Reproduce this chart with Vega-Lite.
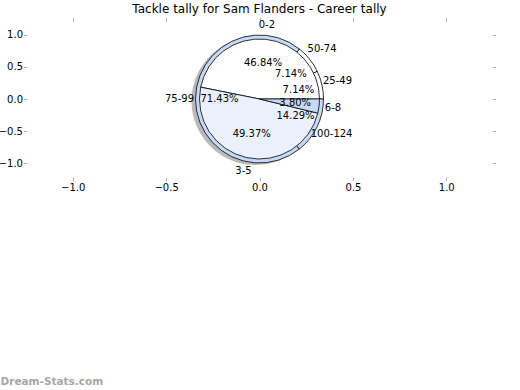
{
  "$schema": "https://vega.github.io/schema/vega-lite/v6.json",
  "autosize": {"type": "none"},
  "width": 465,
  "height": 156,
  "padding": {"left": 27, "top": 21, "right": 28, "bottom": 213},
  "background": "white",
  "title": {
    "text": "Tackle tally for Sam Flanders - Career tally",
    "font": "DejaVu Sans",
    "fontSize": 12,
    "fontWeight": "normal",
    "color": "black",
    "offset": 1
  },
  "datasets": {
    "career": [
      {"range": "25-49", "share": 0.0714, "idx": 1},
      {"range": "50-74", "share": 0.0714, "idx": 2},
      {"range": "75-99", "share": 0.7143, "idx": 3},
      {"range": "100-124", "share": 0.1429, "idx": 4}
    ],
    "games": [
      {"range": "0-2", "share": 0.4684, "idx": 1},
      {"range": "3-5", "share": 0.4937, "idx": 2},
      {"range": "6-8", "share": 0.038, "idx": 3}
    ]
  },
  "layer": [
    {
      "data": {"name": "career"},
      "mark": {"type": "arc", "radius": 64, "fill": "#7f7f7f", "opacity": 0.55, "xOffset": -4, "yOffset": 2},
      "encoding": {
        "x": {"datum": 0, "type": "quantitative", "scale": {"domain": [-1.245, 1.245], "nice": false, "zero": false},
          "axis": {"orient": "bottom", "values": [-1, -0.5, 0, 0.5, 1], "format": ".1f", "title": "Dream-Stats.com",
            "titleAnchor": "start", "titleAlign": "left", "titleBaseline": "alphabetic", "titleX": -27, "titleY": 207,
            "titleColor": "#a6a6a6", "titleFontSize": 10.5, "titleFontWeight": "bold", "titleFont": "DejaVu Sans"}},
        "y": {"datum": 0, "type": "quantitative", "scale": {"domain": [-1.21, 1.21], "nice": false, "zero": false},
          "axis": {"orient": "left", "values": [-1, -0.5, 0, 0.5, 1], "format": ".1f", "title": null, "labelPadding": 1}},
        "theta": {"field": "share", "type": "quantitative", "stack": true, "scale": {"domain": [0, 1], "range": [1.5708, -4.7124]}},
        "order": {"field": "idx", "type": "quantitative"}
      }
    },
    {
      "data": {"name": "career"},
      "mark": {"type": "arc", "radius": 64, "stroke": "black", "strokeWidth": 0.8},
      "encoding": {
        "x": {"datum": 0, "type": "quantitative",
          "axis": {"orient": "top", "values": [-1, -0.5, 0, 0.5, 1], "labels": false, "title": null}},
        "y": {"datum": 0, "type": "quantitative",
          "axis": {"orient": "right", "values": [-1, -0.5, 0, 0.5, 1], "labels": false, "title": null}},
        "theta": {"field": "share", "type": "quantitative", "stack": true, "scale": {"domain": [0, 1], "range": [1.5708, -4.7124]}},
        "order": {"field": "idx", "type": "quantitative"},
        "color": {"field": "range", "type": "nominal", "legend": null,
          "scale": {"domain": ["0-2", "3-5", "6-8", "25-49", "50-74", "75-99", "100-124"],
            "range": ["#ffffff", "#eaf1fd", "#c6daf8", "#ffffff", "#ffffff", "#c6daf8", "#c6daf8"]}}
      }
    },
    {
      "data": {"name": "games"},
      "mark": {"type": "arc", "radius": 60, "stroke": "black", "strokeWidth": 0.8},
      "encoding": {
        "x": {"datum": 0, "type": "quantitative", "axis": null},
        "y": {"datum": 0, "type": "quantitative", "axis": null},
        "theta": {"field": "share", "type": "quantitative", "stack": true, "scale": {"domain": [0, 1], "range": [1.5708, -4.7124]}},
        "order": {"field": "idx", "type": "quantitative"},
        "color": {"field": "range", "type": "nominal", "legend": null}
      }
    },
    {
      "data": {"name": "career"},
      "mark": {"type": "text", "radius": 80, "font": "DejaVu Sans", "fontSize": 10, "color": "black", "align": "center", "baseline": "middle"},
      "encoding": {
        "x": {"datum": 0, "type": "quantitative", "axis": null},
        "y": {"datum": 0, "type": "quantitative", "axis": null},
        "theta": {"field": "share", "type": "quantitative", "stack": true, "scale": {"domain": [0, 1], "range": [1.5708, -4.7124]}},
        "order": {"field": "idx", "type": "quantitative"},
        "text": {"field": "range", "type": "nominal"}
      }
    },
    {
      "data": {"name": "career"},
      "mark": {"type": "text", "radius": 40, "font": "DejaVu Sans", "fontSize": 10, "color": "black", "align": "center", "baseline": "middle"},
      "encoding": {
        "x": {"datum": 0, "type": "quantitative", "axis": null},
        "y": {"datum": 0, "type": "quantitative", "axis": null},
        "theta": {"field": "share", "type": "quantitative", "stack": true, "scale": {"domain": [0, 1], "range": [1.5708, -4.7124]}},
        "order": {"field": "idx", "type": "quantitative"},
        "text": {"field": "share", "type": "quantitative", "format": ".2%"}
      }
    },
    {
      "data": {"name": "games"},
      "mark": {"type": "text", "radius": 74, "font": "DejaVu Sans", "fontSize": 10, "color": "black", "align": "center", "baseline": "middle"},
      "encoding": {
        "x": {"datum": 0, "type": "quantitative", "axis": null},
        "y": {"datum": 0, "type": "quantitative", "axis": null},
        "theta": {"field": "share", "type": "quantitative", "stack": true, "scale": {"domain": [0, 1], "range": [1.5708, -4.7124]}},
        "order": {"field": "idx", "type": "quantitative"},
        "text": {"field": "range", "type": "nominal"}
      }
    },
    {
      "data": {"name": "games"},
      "mark": {"type": "text", "radius": 36, "font": "DejaVu Sans", "fontSize": 10, "color": "black", "align": "center", "baseline": "middle"},
      "encoding": {
        "x": {"datum": 0, "type": "quantitative", "axis": null},
        "y": {"datum": 0, "type": "quantitative", "axis": null},
        "theta": {"field": "share", "type": "quantitative", "stack": true, "scale": {"domain": [0, 1], "range": [1.5708, -4.7124]}},
        "order": {"field": "idx", "type": "quantitative"},
        "text": {"field": "share", "type": "quantitative", "format": ".2%"}
      }
    }
  ],
  "resolve": {"axis": {"x": "independent", "y": "independent"}},
  "config": {
    "view": {"stroke": null},
    "font": "DejaVu Sans",
    "axis": {
      "domain": false,
      "grid": false,
      "tickColor": "#b0b0b0",
      "tickSize": 3.5,
      "tickWidth": 1,
      "labelFont": "DejaVu Sans",
      "labelFontSize": 10,
      "labelColor": "black",
      "labelPadding": 2
    }
  }
}
